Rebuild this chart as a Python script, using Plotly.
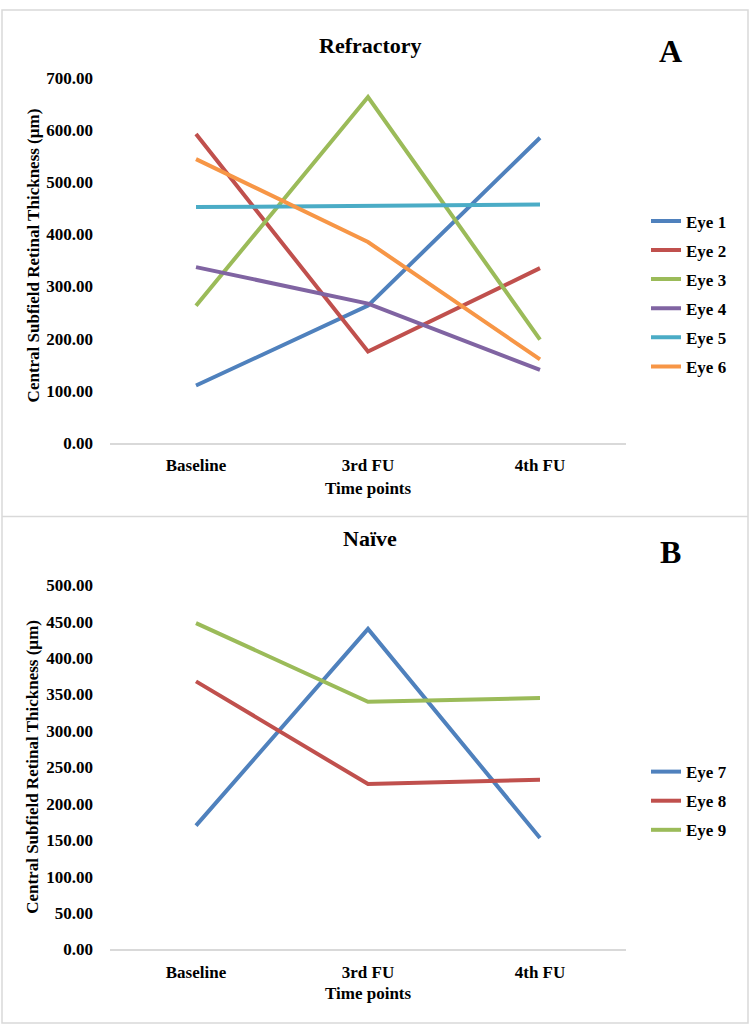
import plotly.graph_objects as go

categories = ["Baseline", "3rd FU", "4th FU"]

# Panel A - Refractory
refractory_names = ["Eye 1", "Eye 2", "Eye 3", "Eye 4", "Eye 5", "Eye 6"]
eye1 = [110, 263, 585]
eye2 = [592, 175, 335]
eye3 = [263, 663, 198]
eye4 = [337, 267, 140]
eye5 = [452, 454, 457]
eye6 = [544, 385, 160]
refractory_values = [eye1, eye2, eye3, eye4, eye5, eye6]
refractory_colors = ["#4F81BD", "#C0504D", "#9BBB59", "#8064A2", "#4BACC6", "#F79646"]

# Panel B - Naive
naive_names = ["Eye 7", "Eye 8", "Eye 9"]
eye7 = [170, 440, 153]
eye8 = [368, 227, 233]
eye9 = [448, 340, 345]
naive_values = [eye7, eye8, eye9]
naive_colors = ["#4F81BD", "#C0504D", "#9BBB59"]

W, H = 750, 1035
FONT = "Liberation Serif"
BLACK = "#000000"
GRID = "#D9D9D9"


def px(x):
    return x / W


def py(y):
    return 1 - y / H


fig = go.Figure()

for name, vals, col in zip(refractory_names, refractory_values, refractory_colors):
    fig.add_trace(go.Scatter(x=categories, y=vals, name=name, mode="lines",
                             line=dict(color=col, width=4),
                             legendgroup=name,
                             xaxis="x", yaxis="y", legend="legend"))

for name, vals, col in zip(naive_names, naive_values, naive_colors):
    fig.add_trace(go.Scatter(x=categories, y=vals, name=name, mode="lines",
                             line=dict(color=col, width=4),
                             legendgroup=name,
                             xaxis="x2", yaxis="y2", legend="legend2"))

tickfont = dict(family=FONT, size=17, color=BLACK, weight="bold")

xcommon = dict(type="category", range=[-0.5, 2.5], showline=True, linecolor=GRID,
               linewidth=1.5, showgrid=False, zeroline=False, ticks="",
               tickfont=tickfont, ticklabelstandoff=6, fixedrange=True)
ycommon = dict(showline=False, showgrid=False, zeroline=False, ticks="",
               tickformat=".2f", tickfont=tickfont, ticklabelstandoff=16,
               fixedrange=True)

legfont = dict(family=FONT, size=17, color=BLACK, weight="bold")

fig.update_layout(
    width=W, height=H,
    margin=dict(l=0, r=0, t=0, b=0),
    paper_bgcolor="white", plot_bgcolor="white",
    showlegend=True,
    xaxis=dict(domain=[px(110), px(626)], anchor="y", **xcommon),
    yaxis=dict(domain=[py(442), py(70)], anchor="x", range=[0, 700], dtick=100, **ycommon),
    xaxis2=dict(domain=[px(110), px(626)], anchor="y2", **xcommon),
    yaxis2=dict(domain=[py(958), py(587)], anchor="x2", range=[0, 500], dtick=50, **ycommon),
    legend=dict(x=px(646), y=py(198), xanchor="left", yanchor="top",
                font=legfont, bgcolor="rgba(0,0,0,0)", itemwidth=30,
                tracegroupgap=4, traceorder="grouped"),
    legend2=dict(x=px(646), y=py(759), xanchor="left", yanchor="top",
                 font=legfont, bgcolor="rgba(0,0,0,0)", itemwidth=30,
                 tracegroupgap=4, traceorder="grouped"),
)

annots = []
bold = lambda s: dict(family=FONT, size=s, color=BLACK, weight="bold")
# Panel titles
annots.append(dict(text="Refractory", x=px(370), y=py(37), xref="paper", yref="paper",
                   showarrow=False, font=bold(22), xanchor="center", yanchor="middle"))
annots.append(dict(text="Naïve", x=px(370), y=py(539), xref="paper", yref="paper",
                   showarrow=False, font=bold(22), xanchor="center", yanchor="middle"))
# Panel letters
annots.append(dict(text="A", x=px(670), y=py(43), xref="paper", yref="paper",
                   showarrow=False, font=bold(32), xanchor="center", yanchor="middle"))
annots.append(dict(text="B", x=px(670), y=py(553), xref="paper", yref="paper",
                   showarrow=False, font=bold(32), xanchor="center", yanchor="middle"))
# X titles
annots.append(dict(text="Time points", x=px(368), y=py(488), xref="paper", yref="paper",
                   showarrow=False, font=bold(17), xanchor="center", yanchor="middle"))
annots.append(dict(text="Time points", x=px(368), y=py(1003), xref="paper", yref="paper",
                   showarrow=False, font=bold(17), xanchor="center", yanchor="middle"))
# Y titles
ytitle = "Central Subfield Retinal Thickness (µm)"
annots.append(dict(text=ytitle, x=px(33), y=py(251), xref="paper", yref="paper",
                   showarrow=False, font=bold(17), textangle=-90,
                   xanchor="center", yanchor="middle"))
annots.append(dict(text=ytitle, x=px(33), y=py(772), xref="paper", yref="paper",
                   showarrow=False, font=bold(17), textangle=-90,
                   xanchor="center", yanchor="middle"))
fig.update_layout(annotations=annots)

# Borders: outer frame and separator between panels
fig.add_shape(type="rect", xref="paper", yref="paper", x0=px(2), x1=px(748),
              y0=py(1033), y1=py(1), line=dict(color=GRID, width=1.5))
fig.add_shape(type="line", xref="paper", yref="paper", x0=px(2), x1=px(748),
              y0=py(517), y1=py(517), line=dict(color=GRID, width=1.5))

fig.write_html("out.html")
